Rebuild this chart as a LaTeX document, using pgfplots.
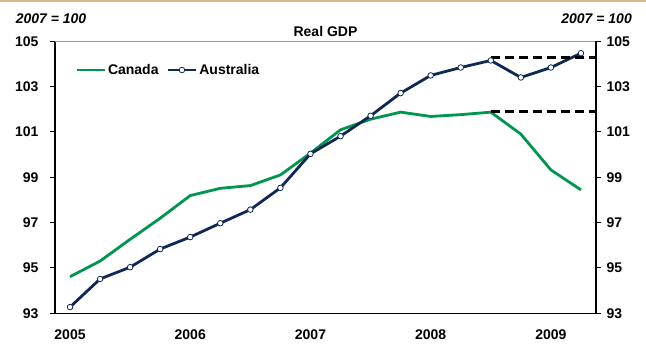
\documentclass[border=0pt]{standalone}
\usepackage{fontspec}
\setmainfont{Liberation Sans}
\usepackage{pgfplots}
\pgfplotsset{compat=1.18}
\definecolor{cgreen}{RGB}{0,150,80}
\definecolor{cnavy}{RGB}{16,40,85}
\definecolor{ctan}{RGB}{214,184,140}
\newcommand{\lbl}{\fontsize{14bp}{16bp}\selectfont\bfseries}
\begin{document}
\begin{tikzpicture}[x=1bp,y=1bp]
\useasboundingbox (-55,-30.8) rectangle (591,313.2);
\draw[ctan, line width=2bp] (-55,312.2) -- (591,312.2);
\begin{axis}[
  at={(0,0)}, anchor=south west,
  scale only axis, width=541bp, height=272bp,
  xmin=-0.5, xmax=17.5, ymin=93, ymax=105,
  axis x line*=bottom, axis y line*=left,
  axis line style={black, line width=1.2bp, -},
  xtick={0,4,8,12,16}, xticklabels={2005,2006,2007,2008,2009},
  x tick style={draw=none},
  ytick={93,95,...,105},
  y tick style={black, line width=1bp},
  tick align=outside, major tick length=5bp,
  /pgf/number format/assume math mode=true,
  tick label style={font=\lbl},
  xticklabel style={yshift=-8bp},
  yticklabel style={xshift=-8bp},
  clip=false,
  legend style={draw=none, fill=none, at={(axis description cs:0.037,0.894)}, anchor=west,
    font=\lbl, /tikz/every even column/.append style={column sep=6bp}, inner xsep=0pt},
  legend columns=2, legend cell align=left,
  legend image code/.code={\draw[mark repeat=2,mark phase=2,#1] plot coordinates {(0bp,0bp) (14bp,0bp) (28bp,0bp)};},
]
\draw[gray!80, line width=0.8bp] (rel axis cs:0,1) -- (rel axis cs:1,1);
\addplot[cgreen, line width=2.8bp, no marks] coordinates {
(0,94.61) (1,95.30) (2,96.26) (3,97.19) (4,98.19) (5,98.51) (6,98.63) (7,99.10)
(8,100.06) (9,101.09) (10,101.56) (11,101.87) (12,101.68) (13,101.76) (14,101.87)
(15,100.90) (16,99.32) (17,98.44)};
\addlegendentry{Canada}
\addplot[cnavy, line width=2.8bp, mark=*, mark size=2.8bp,
  mark options={fill=white, draw=cnavy, line width=0.8bp}] coordinates {
(0,93.27) (1,94.51) (2,95.03) (3,95.83) (4,96.36) (5,96.97) (6,97.57) (7,98.53)
(8,100.03) (9,100.81) (10,101.71) (11,102.71) (12,103.49) (13,103.84) (14,104.15)
(15,103.40) (16,103.84) (17,104.47)};
\addlegendentry{Australia}
\addplot[black, line width=2.8bp, dash pattern=on 9bp off 5bp, forget plot] coordinates {(14,104.29) (17.5,104.29)};
\addplot[black, line width=2.8bp, dash pattern=on 9bp off 5bp, forget plot] coordinates {(14,101.90) (17.5,101.90)};
\node[font=\lbl, anchor=base] at (axis description cs:0.5,1) [yshift=5bp] {Real GDP};
\node[font=\lbl\itshape, anchor=base west, inner sep=0pt] at (axis description cs:0,1) [xshift=-39.4bp, yshift=17.3bp] {2007 = 100};
\node[font=\lbl\itshape, anchor=base east, inner sep=0pt] at (axis description cs:1,1) [xshift=36bp, yshift=17.3bp] {2007 = 100};
\end{axis}
\begin{axis}[
  at={(0,0)}, anchor=south west,
  scale only axis, width=541bp, height=272bp,
  xmin=-0.5, xmax=17.5, ymin=93, ymax=105,
  axis y line*=right, hide x axis,
  axis line style={black, line width=1.2bp, -},
  ytick={93,95,...,105},
  y tick style={black, line width=1bp},
  tick align=outside, major tick length=5bp,
  /pgf/number format/assume math mode=true,
  tick label style={font=\lbl},
  yticklabel style={xshift=2bp},
]
\end{axis}
\end{tikzpicture}
\end{document}
